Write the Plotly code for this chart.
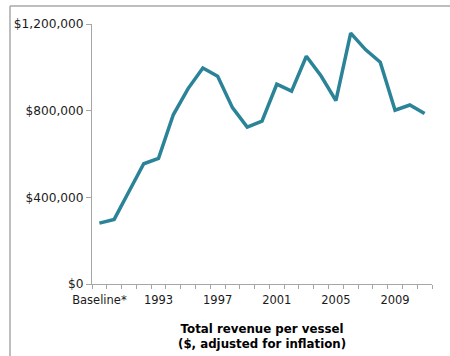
import plotly.graph_objects as go

# Total revenue per vessel, inflation-adjusted dollars
categories = ["Baseline*"] + [str(y) for y in range(1990, 2012)]
revenue = [
    281000, 298000, 427000, 555000, 580000, 781000, 902000, 997000,
    959000, 814000, 724000, 752000, 922000, 890000, 1051000, 960000,
    846000, 1158000, 1082000, 1024000, 802000, 826000, 787000,
]
label_every = 4
tick_text = [c if i % label_every == 0 else "" for i, c in enumerate(categories)]
y_ticks = [0, 400000, 800000, 1200000]
y_tick_text = ["$0", "$400,000", "$800,000", "$1,200,000"]

axis_grey = "#a6a6a6"
line_colour = "#2b8398"
font_family = "DejaVu Sans, Verdana, sans-serif"

fig = go.Figure(
    go.Scatter(
        x=categories,
        y=revenue,
        mode="lines",
        line=dict(color=line_colour, width=3.5),
        hoverinfo="skip",
    )
)

fig.update_layout(
    width=450,
    height=356,
    margin=dict(l=92, r=18, t=24, b=72),
    paper_bgcolor="white",
    plot_bgcolor="white",
    showlegend=False,
    font=dict(family=font_family, size=11.5, color="#1a1a1a"),
)

fig.update_xaxes(
    type="category",
    tickmode="array",
    tickvals=categories,
    ticktext=tick_text,
    tickson="boundaries",
    ticks="outside",
    ticklen=4,
    tickcolor=axis_grey,
    ticklabelstandoff=5,
    tickfont=dict(size=11.5),
    showline=True,
    linecolor=axis_grey,
    linewidth=1,
    showgrid=False,
    zeroline=False,
    tickangle=0,
    range=[-0.5, len(categories) - 0.5],
)

fig.update_yaxes(
    range=[0, 1200000],
    tickmode="array",
    tickvals=y_ticks,
    ticktext=y_tick_text,
    ticks="outside",
    ticklen=5,
    tickcolor=axis_grey,
    tickfont=dict(size=12.2),
    showline=True,
    linecolor=axis_grey,
    linewidth=1,
    showgrid=False,
    zeroline=False,
)

# Axis caption below the chart
fig.add_annotation(
    text="<b>Total revenue per vessel</b><br><b>($, adjusted for inflation)</b>",
    xref="paper", yref="paper",
    x=0.5, y=-0.14,
    xanchor="center", yanchor="top",
    showarrow=False,
    font=dict(family=font_family, size=11.8, color="#000000"),
    align="center",
)

# Thin frame along the top and left of the figure
plot_w, plot_h = 450 - 92 - 18, 356 - 24 - 72
left = (10 - 92) / plot_w
top = (284 - 6) / plot_h
fig.add_shape(type="line", xref="paper", yref="paper",
              x0=left, x1=1.2, y0=top, y1=top,
              line=dict(color="#a8a8a8", width=1.5))
fig.add_shape(type="line", xref="paper", yref="paper",
              x0=left, x1=left, y0=top, y1=-0.4,
              line=dict(color="#a8a8a8", width=1.5))

fig.write_html("out.html")
